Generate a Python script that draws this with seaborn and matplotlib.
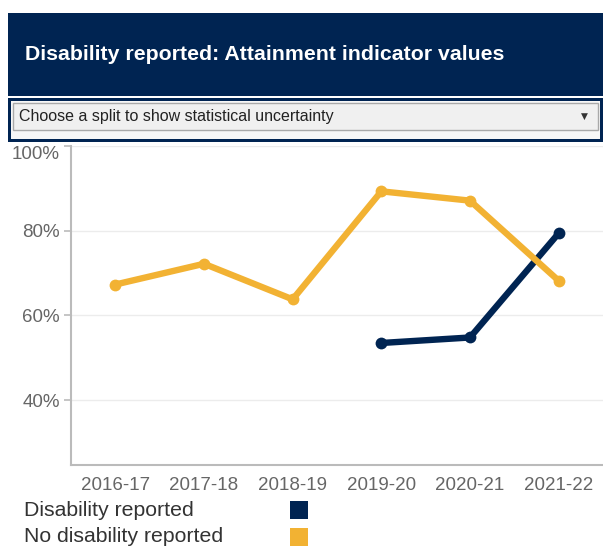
import matplotlib
matplotlib.use("Agg")
import matplotlib.pyplot as plt
from matplotlib.patches import Rectangle
from matplotlib.ticker import FixedLocator, FuncFormatter
import seaborn as sns
import pandas as pd

years = ["2016-17", "2017-18", "2018-19", "2019-20", "2020-21", "2021-22"]
series_names = ["Disability reported", "No disability reported"]
disability_years = ["2019-20", "2020-21", "2021-22"]
disability_values = [53.5, 54.8, 79.4]
no_disability_years = years
no_disability_values = [67.3, 72.2, 63.8, 89.3, 87.1, 68.2]
y_ticks = [40, 60, 80, 100]

title = "Disability reported: Attainment indicator values"
dropdown_text = "Choose a split to show statistical uncertainty"

NAVY = "#002452"
ORANGE = "#F2B233"
colors = {series_names[0]: NAVY, series_names[1]: ORANGE}

rows = []
for yr, v in zip(disability_years, disability_values):
    rows.append({"pos": years.index(yr), "value": v, "series": series_names[0]})
for yr, v in zip(no_disability_years, no_disability_values):
    rows.append({"pos": years.index(yr), "value": v, "series": series_names[1]})
df = pd.DataFrame(rows)

sns.set_theme(style="white")
plt.rcParams["font.family"] = ["Liberation Sans", "DejaVu Sans"]

W, H = 603, 553
fig = plt.figure(figsize=(W / 100, H / 100), dpi=100)

def fx(px):
    return px / W

def fy(py):
    return 1 - py / H

# Header
fig.patches.append(Rectangle((fx(8), fy(96)), fx(603) - fx(8), fy(13) - fy(96),
                             transform=fig.transFigure, facecolor=NAVY, edgecolor="none"))
fig.text(fx(25), fy(54.5), title, color="white", fontsize=15.3, fontweight="bold",
         ha="left", va="center")

# Dropdown
fig.patches.append(Rectangle((fx(8), fy(142)), fx(603) - fx(8), fy(98) - fy(142),
                             transform=fig.transFigure, facecolor=NAVY, edgecolor="none"))
fig.patches.append(Rectangle((fx(11), fy(139)), fx(600) - fx(11), fy(101) - fy(139),
                             transform=fig.transFigure, facecolor="#f7f7f7", edgecolor="none"))
fig.patches.append(Rectangle((fx(13), fy(130)), fx(598) - fx(13), fy(103) - fy(130),
                             transform=fig.transFigure, facecolor="#f0f0f0",
                             edgecolor="#a9a9a9", linewidth=1))
fig.text(fx(19), fy(116.5), dropdown_text, color="#222222", fontsize=11.5,
         ha="left", va="center")
fig.text(fx(584), fy(116.5), "\u25BC", color="#333333", fontsize=6.5,
         ha="center", va="center", family=["DejaVu Sans"])

# Chart axes
ax = fig.add_axes([fx(71), fy(465), fx(603) - fx(71), fy(146) - fy(465)])
sns.lineplot(data=df, x="pos", y="value", hue="series", hue_order=series_names,
             palette=colors, linewidth=4.6, marker="o", markersize=8.5,
             markeredgewidth=0, ax=ax, legend=False, sort=True,
             solid_capstyle="round", solid_joinstyle="round")

ax.set_xlim(-0.5, len(years) - 0.5)
ax.set_ylim(24.7, 100)
ax.set_xlabel("")
ax.set_ylabel("")

ax.xaxis.set_major_locator(FixedLocator(range(len(years))))
ax.set_xticklabels(years)
ax.xaxis.set_minor_locator(FixedLocator([i - 0.5 for i in range(len(years))]))
ax.tick_params(axis="x", which="major", length=0, pad=9, labelsize=13.5,
               labelcolor="#666666")
ax.tick_params(axis="x", which="minor", length=6, width=1.2, color="#bbbbbb",
               direction="out")

ax.yaxis.set_major_locator(FixedLocator(y_ticks))
ax.yaxis.set_major_formatter(FuncFormatter(lambda v, p: f"{v:.0f}%"))
ax.tick_params(axis="y", which="major", length=5, width=1.2, color="#bbbbbb",
               pad=3, labelsize=13.5, labelcolor="#666666", left=True)

# the top label sits below its tick, as in the reference
fig.canvas.draw()
for lbl, t in zip(ax.get_yticklabels(), y_ticks):
    if t == max(y_ticks):
        lbl.set_verticalalignment("top")

ax.grid(axis="y", color="#ececec", linewidth=1)
ax.grid(axis="x", visible=False)
for side in ["top", "right"]:
    ax.spines[side].set_visible(False)
for side in ["left", "bottom"]:
    ax.spines[side].set_color("#bbbbbb")
    ax.spines[side].set_linewidth(1.5)

# Legend
legend_y = [510, 537]
for name, py in zip(series_names, legend_y):
    fig.text(fx(24), fy(py), name, color="#333333", fontsize=15.3,
             ha="left", va="center")
    fig.patches.append(Rectangle((fx(290), fy(py + 9)), fx(18), fy(0) - fy(18),
                                 transform=fig.transFigure,
                                 facecolor=colors[name], edgecolor="none"))

fig.savefig("out.png", dpi=100)
